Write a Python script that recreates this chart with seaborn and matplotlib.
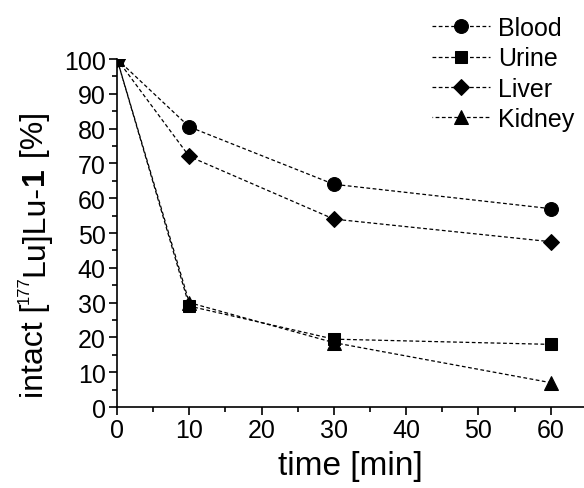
import matplotlib
matplotlib.use("Agg")
import matplotlib.pyplot as plt
import seaborn as sns
from matplotlib.ticker import MultipleLocator
from matplotlib.font_manager import FontProperties
from matplotlib.transforms import IdentityTransform

# data
time_min = [0, 10, 30, 60]
blood = [100, 80.5, 64, 57]
urine = [100, 29, 19.5, 18]
liver = [100, 72, 54, 47.5]
kidney = [100, 30, 18.5, 7]

sns.set_style("ticks")
plt.rcParams['font.family'] = ['Liberation Sans', 'DejaVu Sans']
plt.rcParams['text.color'] = 'black'
plt.rcParams['axes.labelcolor'] = 'black'
plt.rcParams['xtick.color'] = 'black'
plt.rcParams['ytick.color'] = 'black'

fig = plt.figure(figsize=(5.84, 4.89), dpi=100)
ax = fig.add_axes([0.2003, 0.1656, 0.7997, 0.7117])

series = [
    ("Blood", blood, 'o', 10, (0, (3, 2))),
    ("Urine", urine, 's', 8.5, (0, (3, 2))),
    ("Liver", liver, 'D', 8.5, (0, (3, 2))),
    ("Kidney", kidney, '^', 10, (2.5, (3, 2))),
]
for name, vals, mk, ms, ls in series:
    sns.lineplot(x=time_min, y=vals, ax=ax, color='black', marker=mk,
                 markersize=ms, markeredgecolor='black', linewidth=0.9,
                 linestyle=ls, label=name)

ax.set_xlim(0, 64.6)
ax.set_ylim(0, 100)
ax.xaxis.set_major_locator(MultipleLocator(10))
ax.xaxis.set_minor_locator(MultipleLocator(5))
ax.yaxis.set_major_locator(MultipleLocator(10))
ax.yaxis.set_minor_locator(MultipleLocator(5))
ax.tick_params(which='major', direction='out', length=6, width=1.2,
               labelsize=18, pad=2, color='black')
ax.tick_params(which='minor', direction='out', length=3.5, width=1.2,
               color='black')
sns.despine(ax=ax)
for s in ['left', 'bottom']:
    ax.spines[s].set_linewidth(1.2)
    ax.spines[s].set_color('black')

ax.set_xlabel('time [min]', fontsize=24, labelpad=6)
ax.set_ylabel('')

ax.legend(loc='upper right', bbox_to_anchor=(1.0, 1.152), frameon=False,
          fontsize=18, handlelength=2.35, handletextpad=0.3,
          labelspacing=0.25, borderaxespad=0)

# y label built from pieces so the superscript stays small
ylabel_parts = [("intact [", 23, 'normal', 0), ("177", 12, 'normal', 14),
                ("Lu]Lu-", 23, 'normal', 0), ("1", 23, 'bold', 0),
                (" [%]", 23, 'normal', 0)]
fig.canvas.draw()
r = fig.canvas.get_renderer()


def advance(s, fp):
    w1 = r.get_text_width_height_descent('|' + s + '|', fp, ismath=False)[0]
    w0 = r.get_text_width_height_descent('||', fp, ismath=False)[0]
    return w1 - w0


x0, y = 43, 91
for txt, size, weight, rise in ylabel_parts:
    fp = FontProperties(family='Liberation Sans', size=size, weight=weight)
    fig.text(x0 - rise, y, txt, fontproperties=fp, rotation=90,
             rotation_mode='anchor', ha='left', va='baseline',
             transform=IdentityTransform())
    y += advance(txt, fp)

fig.savefig('out.png', dpi=100)
